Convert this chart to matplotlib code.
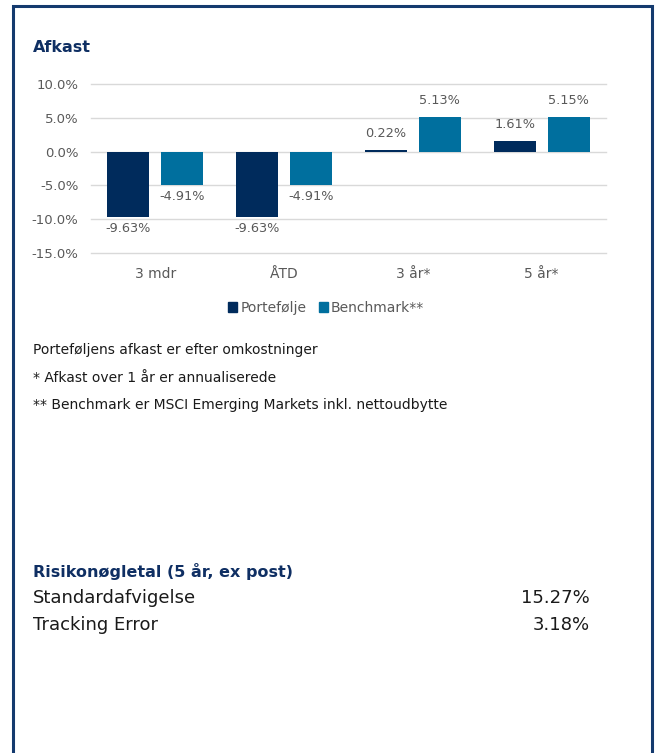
import matplotlib
matplotlib.use("Agg")
import matplotlib.pyplot as plt
from matplotlib.patches import Rectangle, Patch
import numpy as np

plt.rcParams['font.family'] = ['DejaVu Sans']

categories = ["3 mdr", "ÅTD", "3 år*", "5 år*"]
portefolje = [-9.63, -9.63, 0.22, 1.61]
benchmark = [-4.91, -4.91, 5.13, 5.15]
series_names = ["Portefølje", "Benchmark**"]
yticks = [10, 5, 0, -5, -10, -15]

notes = ["Porteføljens afkast er efter omkostninger",
         "* Afkast over 1 år er annualiserede",
         "** Benchmark er MSCI Emerging Markets inkl. nettoudbytte"]
risk_labels = ["Standardafvigelse", "Tracking Error"]
risk_values = ["15.27%", "3.18%"]

NAVY = "#002b5c"
BLUE = "#006f9e"
GREY = "#595959"
TITLE = "#0f2f63"

W, H = 655, 753
fig = plt.figure(figsize=(W/100, H/100), dpi=100)

def fx(px): return px / W
def fy(py): return 1 - py / H

# frame
fig.add_artist(Rectangle((fx(13), fy(800)), fx(652) - fx(13), fy(6) - fy(800),
                         transform=fig.transFigure, fill=False,
                         edgecolor="#143a6e", linewidth=2.2, clip_on=False))

ax = fig.add_axes([fx(91), fy(253), fx(606) - fx(91), fy(84) - fy(253)])
x = np.arange(len(categories))
bw = 0.326
off = (bw + 0.093) / 2
b1 = ax.bar(x - off, portefolje, bw, color=NAVY, label=series_names[0])
b2 = ax.bar(x + off, benchmark, bw, color=BLUE, label=series_names[1])

for bars, vals in ((b1, portefolje), (b2, benchmark)):
    for rect, v in zip(bars, vals):
        cx = rect.get_x() + rect.get_width() / 2
        if v >= 0:
            ax.annotate(f"{v:.2f}%", (cx, v), xytext=(0, 7), textcoords="offset points",
                        ha="center", va="bottom", fontsize=9.3, color=GREY)
        else:
            ax.annotate(f"{v:.2f}%", (cx, v), xytext=(0, -3.5), textcoords="offset points",
                        ha="center", va="top", fontsize=9.3, color=GREY)

ax.set_ylim(-15, 10)
ax.set_xlim(-0.5, len(categories) - 0.5)
ax.set_yticks(yticks)
ax.set_yticklabels([f"{t:.1f}%" for t in yticks])
ax.set_xticks(x)
ax.set_xticklabels(categories)
ax.tick_params(axis="both", length=0, labelcolor=GREY)
ax.tick_params(axis="y", pad=9, labelsize=9.5)
ax.tick_params(axis="x", pad=10, labelsize=10)
ax.grid(axis="y", color="#d9d9d9", linewidth=1)
for gl in ax.get_ygridlines():
    gl.set_clip_on(False)
ax.set_axisbelow(True)
for s in ax.spines.values():
    s.set_visible(False)

handles = [Patch(color=NAVY), Patch(color=BLUE)]
fig.legend(handles, series_names, loc="center", bbox_to_anchor=(fx(326), fy(308)),
           ncol=2, frameon=False, fontsize=10, handlelength=0.7, handleheight=0.7,
           handletextpad=0.2, columnspacing=0.9, labelcolor=GREY)

fig.text(fx(33), fy(47), "Afkast", fontsize=11.5, fontweight="bold", color=TITLE,
         va="center", ha="left")
for i, n in enumerate(notes):
    fig.text(fx(33), fy(350 + 27.5 * i), n, fontsize=10, color="#1a1a1a", va="center", ha="left")

fig.text(fx(33), fy(572), "Risikonøgletal (5 år, ex post)", fontsize=11.5, fontweight="bold",
         color=TITLE, va="center", ha="left")
for i, (lab, val) in enumerate(zip(risk_labels, risk_values)):
    yy = fy(598 + 27 * i)
    fig.text(fx(33), yy, lab, fontsize=13, color="#1a1a1a", va="center", ha="left")
    fig.text(fx(590), yy, val, fontsize=13, color="#1a1a1a", va="center", ha="right")

fig.savefig("out.png", dpi=100, facecolor="white")
